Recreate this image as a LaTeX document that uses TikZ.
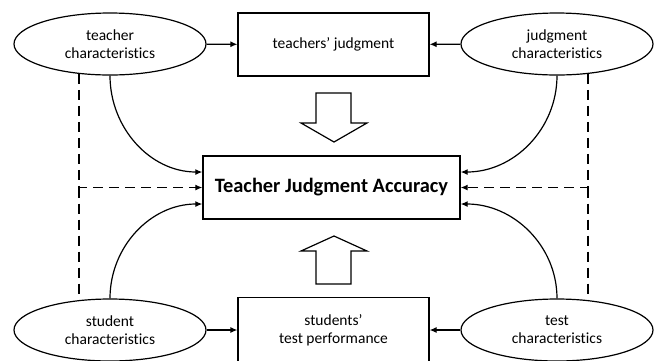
\documentclass[tikz,border=0pt]{standalone}
\usepackage{fontspec}
\setmainfont[Ligatures=NoCommon]{Carlito}
\usetikzlibrary{positioning}
\usetikzlibrary{arrows.meta,shapes.geometric}

\begin{document}
\begin{tikzpicture}[x=1pt, y=-1pt, font=\fontsize{15.5}{18}\selectfont,
  oval/.style={ellipse, draw, line width=1.2pt, minimum width=192pt, minimum height=62pt, inner sep=0pt, align=center},
  box/.style={rectangle, draw, line width=1.2pt, minimum width=191pt, minimum height=63pt, align=center},
  ar/.style={line width=1.2pt, -{Latex[length=7pt,width=6pt]}},
  dar/.style={ar, dash pattern=on 10pt off 6pt},
  blk/.style={draw, line width=1.2pt, fill=white}]
  \useasboundingbox (0,0) rectangle (662,360);
  \begin{scope}
  \clip (0,0) rectangle (662,360);
      \node[oval] (tc) at (110,44) {teacher\\characteristics};
      \node[box] (tj) at (333.5,44.5) {teachers’ judgment};
      \node[oval] (jc) at (557,44) {judgment\\characteristics};
      \node[rectangle, draw, line width=1.4pt, minimum width=257pt, minimum height=63pt,
            font=\fontsize{20.4}{23}\selectfont\bfseries] (acc) at (331.5,187.5) {Teacher Judgment Accuracy};
      \node[oval] (sc) at (110,330) {student\\characteristics};
      \node[box, minimum height=65pt] (tp) at (333.5,330) {students’\\test performance};
      \node[oval] (xc) at (557,330) {test\\characteristics};

      \draw[ar] (tc) -- (tj);
      \draw[ar] (jc) -- (tj);
      \draw[ar] (sc) -- (tp);
      \draw[ar] (xc) -- (tp);

      \draw[ar] (tc.south) to[out=-90, in=180] ([yshift=15.5pt]acc.west);
      \draw[ar] (jc.south) to[out=-90, in=0] ([yshift=15.5pt]acc.east);
      \draw[ar] (sc.north) to[out=90, in=180] ([yshift=-16.5pt]acc.west);
      \draw[ar] (xc.north) to[out=90, in=0] ([yshift=-16.5pt]acc.east);

      \draw[dar] (tc.224) |- (acc.west);
      \draw[dash pattern=on 10pt off 6pt, line width=1.2pt] (acc.west -| tc.224) -- (sc.136);
      \draw[dar] (jc.316) |- (acc.east);
      \draw[dash pattern=on 10pt off 6pt, line width=1.2pt] (acc.east -| jc.316) -- (xc.44);

      % block arrows
      \draw[blk] (316,93) -- (351,93) -- (351,123) -- (367,123) -- (334,142) -- (301,123) -- (316,123) -- cycle;
      \draw[blk] (316,284) -- (351,284) -- (351,251) -- (367,251) -- (334,236) -- (301,251) -- (316,251) -- cycle;
  \end{scope}
\end{tikzpicture}
\end{document}
